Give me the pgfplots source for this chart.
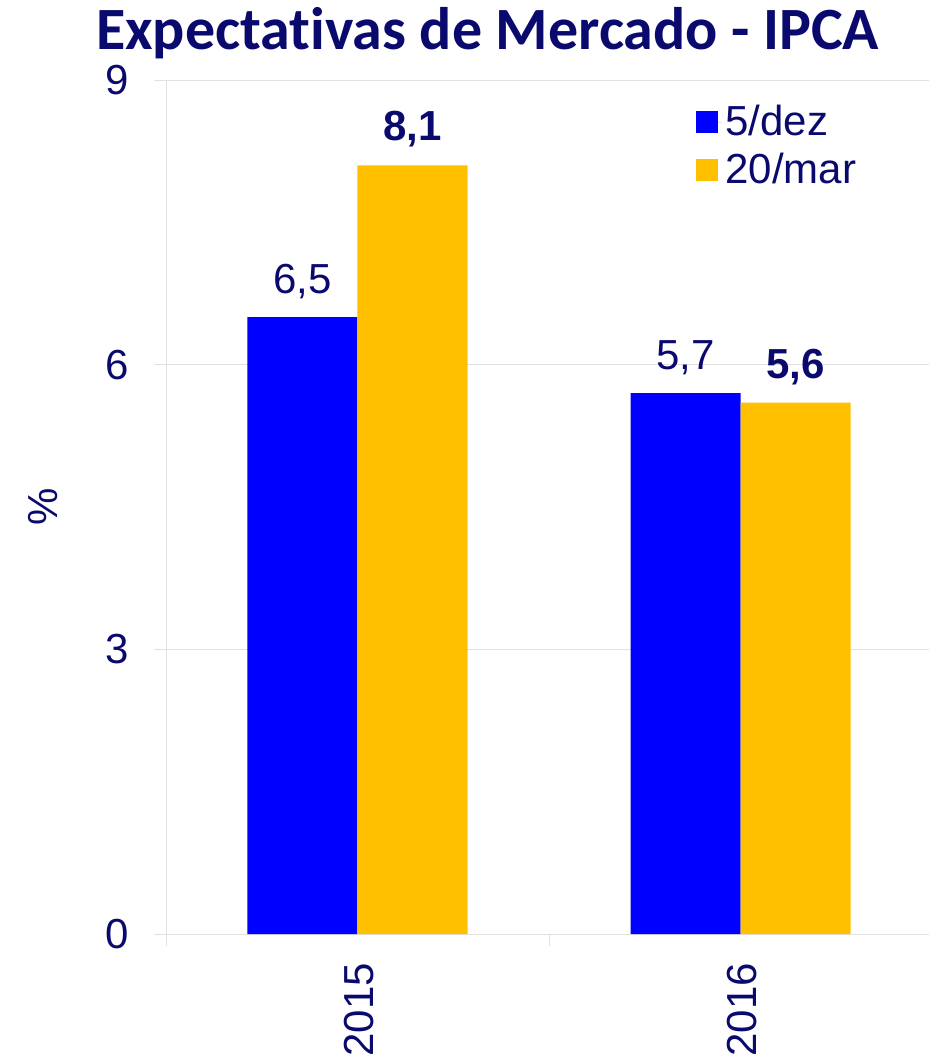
\documentclass[border=0pt]{standalone}
\usepackage{fontspec}
\setmainfont{Liberation Sans}
\newfontfamily\titlefont[Ligatures=NoCommon]{Carlito}
\usepackage{pgfplots}
\pgfplotsset{compat=1.18}
\definecolor{navy}{RGB}{10,10,110}
\definecolor{barblue}{RGB}{0,0,255}
\definecolor{barorange}{RGB}{255,192,0}
\definecolor{gridc}{RGB}{225,225,225}
\begin{document}
\begin{tikzpicture}
\path[use as bounding box] (-83pt,-60.5pt) rectangle (381pt,467pt);
\begin{axis}[
  at={(0,0)}, anchor=south west,
  scale only axis, width=383pt, height=427pt,
  ybar=0pt, bar width=55pt,
  xmin=-0.5, xmax=1.5, ymin=0, ymax=9,
  xtick={0,1}, xticklabels={2015,2016},
  minor xtick={-0.5,0.5,1.5},
  ytick={0,3,6,9},
  axis x line*=bottom, axis y line*=left,
  axis line style={draw=gridc,-},
  major tick style={draw=gridc},
  minor tick style={draw=gridc},
  tick align=outside,
  major tick length=6pt, minor tick length=6pt,
  major x tick style={draw=none},
  ymajorgrids, grid style={draw=gridc},
  /pgf/number format/assume math mode=true,
  /pgf/number format/use comma,
  tick label style={font=\fontsize{21}{23}\selectfont, text=navy},
  xticklabel style={rotate=90, anchor=east, xshift=-5pt, yshift=-1pt},
  yticklabel style={xshift=-9pt},
  ylabel={\%},
  ylabel style={at={(axis description cs:-0.1606,0.5)}, anchor=center, font=\fontsize{21}{23}\selectfont, text=navy},
  title={\titlefont\bfseries Expectativas de Mercado - IPCA},
  title style={at={(0.42,1)}, anchor=base, yshift=9pt, font=\fontsize{30}{32}\selectfont, text=navy},
  nodes near coords,
  nodes near coords style={font=\fontsize{21}{23}\selectfont, text=navy, anchor=south, yshift=5.5pt,
    /pgf/number format/fixed, /pgf/number format/precision=1, /pgf/number format/fixed zerofill},
  legend style={at={(0.683,0.98)}, anchor=north west, draw=none, fill=none,
    font=\fontsize{21}{23}\selectfont, text=navy, row sep=3pt},
  legend cell align=left,
  legend image code/.code={\fill[#1] (-4pt,-5.5pt) rectangle (7pt,5.5pt); \path (7pt,0) -- (9pt,0);},
]
\addplot[fill=barblue, draw=none] coordinates {(0,6.5) (1,5.7)};
\addplot[fill=barorange, draw=none, every node near coord/.append style={font=\fontsize{21}{23}\selectfont\bfseries}] coordinates {(0,8.1) (1,5.6)};
\legend{5/dez, 20/mar}
\end{axis}
\end{tikzpicture}
\end{document}
